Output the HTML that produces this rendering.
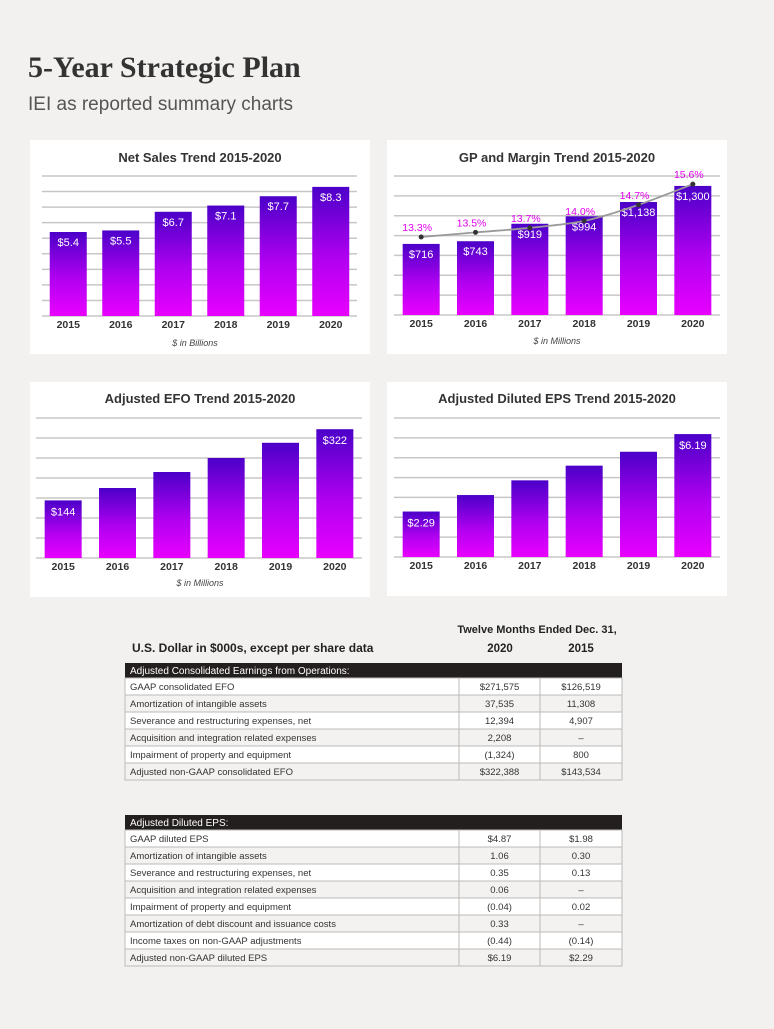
<!DOCTYPE html>
<html><head><meta charset="utf-8">
<style>
html,body{margin:0;padding:0;background:#f2f1ef;}
body{width:774px;height:1024px;overflow:hidden;font-family:"Liberation Sans",sans-serif;}
svg text{font-family:"Liberation Sans",sans-serif;}
</style></head>
<body>
<svg id="page" width="774" height="1024" viewBox="0 0 774 1024" xmlns="http://www.w3.org/2000/svg">
<defs>
<linearGradient id="barGrad" x1="0" y1="0" x2="0" y2="1">
<stop offset="0" stop-color="#4b00c8"/><stop offset="0.55" stop-color="#b000f0"/><stop offset="1" stop-color="#e800ff"/>
</linearGradient>
</defs>
<rect width="774" height="1024" fill="#f2f1ef"/>
<text x="28" y="77" font-size="30" font-weight="bold" fill="#333" style="font-family:'Liberation Serif',serif">5-Year Strategic Plan</text>
<text x="28" y="110" font-size="19" fill="#555">IEI as reported summary charts</text>

<rect x="30" y="140" width="340" height="214" fill="#fff"/>
<rect x="387" y="140" width="340" height="214" fill="#fff"/>
<rect x="30" y="382" width="340" height="215" fill="#fff"/>
<rect x="387" y="382" width="340" height="214" fill="#fff"/>

<text x="200" y="162" font-size="13" font-weight="bold" fill="#333" text-anchor="middle">Net Sales Trend 2015-2020</text>
<text x="557" y="162" font-size="13" font-weight="bold" fill="#333" text-anchor="middle">GP and Margin Trend 2015-2020</text>
<text x="200" y="403" font-size="13" font-weight="bold" fill="#333" text-anchor="middle">Adjusted EFO Trend 2015-2020</text>
<text x="557" y="403" font-size="13" font-weight="bold" fill="#333" text-anchor="middle">Adjusted Diluted EPS Trend 2015-2020</text>
<text x="195" y="346" font-size="9" font-style="italic" fill="#444" text-anchor="middle">$ in Billions</text>
<text x="557" y="344" font-size="9" font-style="italic" fill="#444" text-anchor="middle">$ in Millions</text>
<text x="200" y="586" font-size="9" font-style="italic" fill="#444" text-anchor="middle">$ in Millions</text>
<g id="charts"></g>
<g id="tables"></g>
</svg>
<script>
const years = ['2015','2016','2017','2018','2019','2020'];
const netSales = [5.4,5.5,6.7,7.1,7.7,8.3];
const netSalesLabels = ['$5.4','$5.5','$6.7','$7.1','$7.7','$8.3'];
const grossProfit = [716,743,919,994,1138,1300];
const grossProfitLabels = ['$716','$743','$919','$994','$1,138','$1,300'];
const margins = [13.3,13.5,13.7,14.0,14.7,15.6];
const marginLabels = ['13.3%','13.5%','13.7%','14.0%','14.7%','15.6%'];
const efo = [144,175,215,250,288,322];
const efoLabels = ['$144','','','','','$322'];
const eps = [2.29,3.12,3.86,4.6,5.3,6.19];
const epsLabels = ['$2.29','','','','','$6.19'];

const NS='http://www.w3.org/2000/svg';
const root=document.getElementById('charts');
function mk(tag,attrs,parent,txt){const e=document.createElementNS(NS,tag);for(const k in attrs)e.setAttribute(k,attrs[k]);if(txt!==undefined)e.textContent=txt;(parent||root).appendChild(e);return e;}

function chart(name,cfg,vals,labels){
  const g=mk('g',{});
  
  
  const y=v=>cfg.base-(v/cfg.max)*(cfg.base-cfg.top);
  for(let i=0;i<=cfg.lines;i++){
    const yy=cfg.base-i*(cfg.base-cfg.top)/cfg.lines;
    const l=mk('line',{x1:cfg.x0,x2:cfg.x1,y1:yy,y2:yy,stroke:'#c9c7c5','stroke-width':1.5},g);
    
    
  }
  const step=(cfg.x1-cfg.x0)/years.length;
  cfg.centers=[];
  vals.forEach((v,i)=>{
    const cx=cfg.x0+step*(i+0.5);cfg.centers.push(cx);
    const r=mk('rect',{x:cx-18.5,y:y(v),width:37,height:cfg.base-y(v),fill:'url(#barGrad)'},g);
    
    
    if(labels[i]){
      const t=mk('text',{x:cx,y:y(v)+cfg.lblOff,'font-size':11,fill:'#fff','text-anchor':'middle'},g,labels[i]);
      
      
    }
    const yt=mk('text',{x:cx,y:cfg.base+12,'font-size':10.5,'font-weight':'bold',fill:'#333','text-anchor':'middle'},g,years[i]);
    
    
  });
  return cfg;
}
chart('net-sales',{x0:42,x1:357,base:316,top:176,max:9,lines:9,lblOff:14},netSales,netSalesLabels);
const gp=chart('gp',{x0:394,x1:720,base:315,top:176,max:1400,lines:7,lblOff:14},grossProfit,grossProfitLabels);
chart('efo',{x0:36,x1:362,base:558,top:418,max:350,lines:7,lblOff:15},efo,efoLabels);
chart('eps',{x0:394,x1:720,base:557,top:418,max:7,lines:7,lblOff:15},eps,epsLabels);

// margin line
const my=m=>237-(m-13.3)*23;
const pts=margins.map((m,i)=>[gp.centers[i],my(m)]);
let d='M'+pts[0][0]+' '+pts[0][1];
for(let i=0;i<pts.length-1;i++){
  const p0=pts[Math.max(0,i-1)],p1=pts[i],p2=pts[i+1],p3=pts[Math.min(pts.length-1,i+2)];
  const c1=[p1[0]+(p2[0]-p0[0])/6,p1[1]+(p2[1]-p0[1])/6],c2=[p2[0]-(p3[0]-p1[0])/6,p2[1]-(p3[1]-p1[1])/6];
  d+=' C'+c1+' '+c2+' '+p2;
}
const ml=mk('path',{d:d,fill:'none',stroke:'#999','stroke-width':1.8});


pts.forEach((p,i)=>{
  const c=mk('circle',{cx:p[0],cy:p[1],r:2.5,fill:'#333'});
  
  
  const t=mk('text',{x:p[0]-4,y:p[1]-6,'font-size':10.5,fill:'#e000f0','text-anchor':'middle'},root,marginLabels[i]);
  
  
});

// tables
const tRoot=document.getElementById('tables');
function table(name,top,header,rows){
  const x0=125,x1=622,c1=459,c2=540,rh=17,hh=15;
  const g=mk('g',{},tRoot);
  
  
  const hr=mk('rect',{x:x0,y:top,width:x1-x0,height:hh,fill:'#231f1e'},g);
  
  
  mk('text',{x:x0+5,y:top+11,'font-size':10,fill:'#fff'},g,header);
  rows.forEach((r,i)=>{
    const y=top+hh+i*rh;
    const rr=mk('rect',{x:x0,y:y,width:x1-x0,height:rh,fill:i%2?'#f3f2f1':'#fff',stroke:'#bdbbb9','stroke-width':1},g);
    
    
    mk('line',{x1:c1,x2:c1,y1:y,y2:y+rh,stroke:'#bdbbb9'},g);
    mk('line',{x1:c2,x2:c2,y1:y,y2:y+rh,stroke:'#bdbbb9'},g);
    mk('text',{x:x0+5,y:y+12,'font-size':9.5,fill:'#333'},g,r[0]);
    mk('text',{x:(c1+c2)/2,y:y+12,'font-size':9.5,fill:'#333','text-anchor':'middle'},g,r[1]);
    mk('text',{x:(c2+x1)/2,y:y+12,'font-size':9.5,fill:'#333','text-anchor':'middle'},g,r[2]);
  });
}
mk('text',{x:537,y:633,'font-size':11,'font-weight':'bold',fill:'#222','text-anchor':'middle'},tRoot,'Twelve Months Ended Dec. 31,');
mk('text',{x:132,y:652,'font-size':12,'font-weight':'bold',fill:'#222'},tRoot,'U.S. Dollar in $000s, except per share data');
mk('text',{x:500,y:652,'font-size':11.5,'font-weight':'bold',fill:'#222','text-anchor':'middle'},tRoot,'2020');
mk('text',{x:581,y:652,'font-size':11.5,'font-weight':'bold',fill:'#222','text-anchor':'middle'},tRoot,'2015');
table('efo-table',663,'Adjusted Consolidated Earnings from Operations:',[
 ['GAAP consolidated EFO','$271,575','$126,519'],
 ['Amortization of intangible assets','37,535','11,308'],
 ['Severance and restructuring expenses, net','12,394','4,907'],
 ['Acquisition and integration related expenses','2,208','–'],
 ['Impairment of property and equipment','(1,324)','800'],
 ['Adjusted non-GAAP consolidated EFO','$322,388','$143,534']]);
table('eps-table',815,'Adjusted Diluted EPS:',[
 ['GAAP diluted EPS','$4.87','$1.98'],
 ['Amortization of intangible assets','1.06','0.30'],
 ['Severance and restructuring expenses, net','0.35','0.13'],
 ['Acquisition and integration related expenses','0.06','–'],
 ['Impairment of property and equipment','(0.04)','0.02'],
 ['Amortization of debt discount and issuance costs','0.33','–'],
 ['Income taxes on non-GAAP adjustments','(0.44)','(0.14)'],
 ['Adjusted non-GAAP diluted EPS','$6.19','$2.29']]);
</script>
</body></html>
